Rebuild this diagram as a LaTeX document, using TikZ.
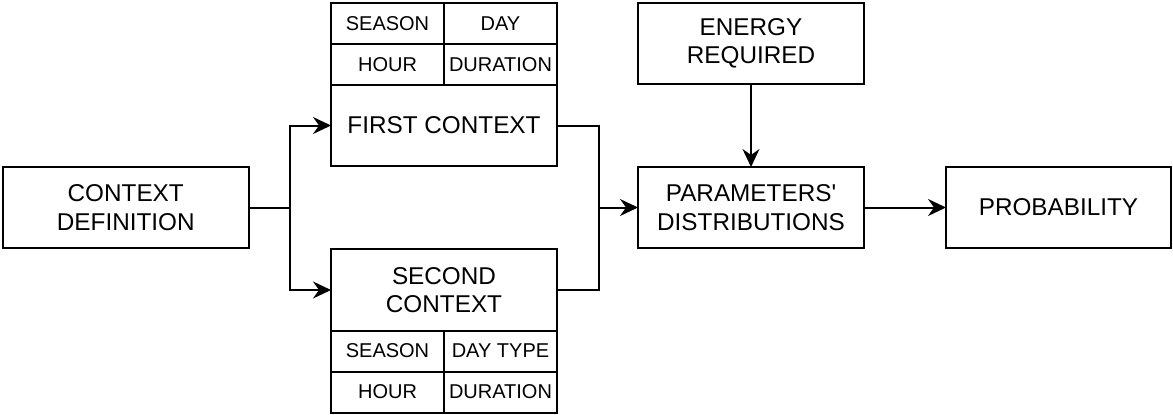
\documentclass[tikz,border=0pt]{standalone}
\usepackage{fontspec}
\setmainfont{Liberation Sans}[Ligatures=TeXOff]
\usetikzlibrary{arrows.meta}

\begin{document}
\begin{tikzpicture}[x=1pt,y=-1pt,
  box/.style={draw=black, line width=2pt, rectangle, inner sep=0pt, outer sep=0pt,
    align=center, font=\fontsize{24.3}{28.5}\selectfont},
  cell/.style={draw=black, line width=2pt, rectangle, inner sep=0pt, outer sep=0pt,
    minimum width=113pt, minimum height=41pt, font=\fontsize{20}{23}\selectfont},
  link/.style={line width=2pt, draw=black},
  arr/.style={link, -{Stealth[length=18pt, width=17pt, inset=6pt]}}
]
\useasboundingbox (0,0) rectangle (1173,415);

% input block
\node[box, minimum width=246pt, minimum height=81pt] (cd) at (125.75,207.5) {CONTEXT\\DEFINITION};

% first context with its attribute table on top
\node[cell] (fs) at (387.5,23.5) {SEASON};
\node[cell] (fd) at (500.5,23.5) {DAY};
\node[cell] (fh) at (387.5,64.5) {HOUR};
\node[cell] (fu) at (500.5,64.5) {DURATION};
\node[box, minimum width=226pt, minimum height=81pt] (fc) at (444,125.5) {FIRST CONTEXT};

% second context with its attribute table below
\node[box, minimum width=226pt, minimum height=82pt] (sc) at (444,290) {SECOND\\CONTEXT};
\node[cell] (ss) at (387.5,351) {SEASON};
\node[cell] (st) at (500.5,351) {DAY TYPE};
\node[cell] (sh) at (387.5,392) {HOUR};
\node[cell] (su) at (500.5,392) {DURATION};

% right-hand chain
\node[box, minimum width=226pt, minimum height=81pt] (en) at (751,43.5) {ENERGY\\REQUIRED};
\node[box, minimum width=226pt, minimum height=81pt] (pd) at (751,207.5) {PARAMETERS'\\DISTRIBUTIONS};
\node[box, minimum width=225pt, minimum height=81pt] (pr) at (1058.5,207.5) {PROBABILITY};

% branch and join points
\coordinate (split) at (290,207.5);
\coordinate (join) at (599,207.5);

\draw[link] (cd.east) -- (split);
\draw[arr] (split) |- (fc.west);
\draw[arr] (split) |- (sc.west);
\draw[link] (fc.east) -| (join);
\draw[link] (sc.east) -| (join);
\draw[arr] (join) -- (pd.west);
\draw[arr] (en.south) -- (pd.north);
\draw[arr] (pd.east) -- (pr.west);
\end{tikzpicture}
\end{document}
